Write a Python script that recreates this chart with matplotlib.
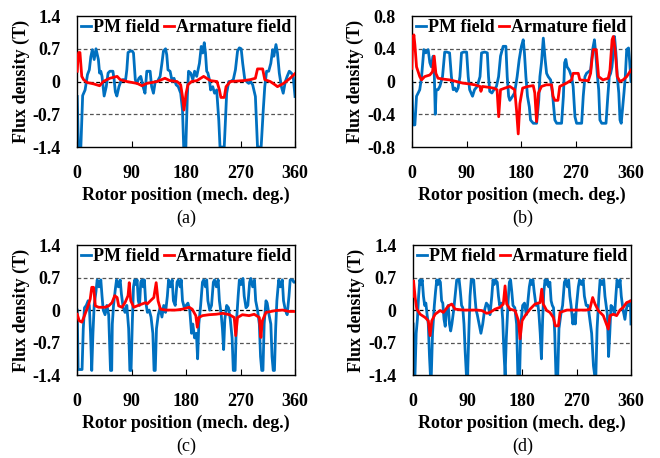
import matplotlib
matplotlib.use("Agg")
import matplotlib.pyplot as plt

plt.rcParams["font.family"] = "Liberation Serif"
plt.rcParams["font.weight"] = "bold"
plt.rcParams["axes.unicode_minus"] = False

# ---- data (angle in mech. deg., flux density in T) ----
# (a)
a_pm_x = [0, 2, 6, 9, 13, 17, 20, 22.5, 25, 28, 31, 35, 37, 39, 41, 44.5, 48, 51, 54, 59, 61, 63, 65.5, 69, 72, 75,
          80, 82, 84, 87.5, 91, 93, 96, 98.5, 102, 105, 109.5, 112, 115, 118, 120.5, 123, 126, 129, 132.5, 137, 140,
          142.5, 146, 148, 150, 153.5, 157, 160, 163.5, 167, 171, 174, 176, 179.5, 182, 184, 187.5, 191, 194, 197.5,
          202, 205, 207.5, 210, 212, 214, 216, 218.5, 220.5, 224, 227, 230.5, 234, 236, 243, 245, 247, 250.5, 253.5,
          258, 261.5, 265, 268, 271, 273.5, 277, 280, 283.5, 286.5, 290, 294.5, 298, 304, 307.5, 310, 313, 316.5,
          320, 323, 325, 328.5, 331, 334, 337.5, 340.5, 344, 347, 350.5, 354, 357, 360]
a_pm_y = [-0.32, -1.4, -1.4, -0.3, -0.18, 0.15, 0.25, 0.53, 0.68, 0.47, 0.7, 0.47, 0.18, 0.22, 0.11, -0.31, -0.11,
          0.18, 0.22, 0.22, 0.04, -0.22, -0.31, -0.11, 0.0, 0.04, 0.04, 0.25, 0.62, 0.65, 0.65, 0.61, 0.04, -0.04,
          0.07, 0.11, -0.14, -0.25, 0.22, 0.22, 0.22, -0.11, -0.25, 0.0, 0.0, 0.11, 0.39, 0.65, 0.7, 0.57, 0.25,
          0.22, 0.0, 0.07, -0.07, -0.11, -0.25, -0.61, -1.4, -1.4, -0.32, 0.22, 0.18, 0.04, 0.22, 0.11, 0.39, 0.75,
          0.61, 0.83, 0.61, 0.22, 0.18, 0.04, -0.18, -0.11, -0.25, -0.18, -0.83, -1.4, -1.4, -0.83, -0.25, 0.0, 0.0,
          0.04, 0.25, 0.65, 0.72, 0.7, 0.39, 0.04, 0.0, -0.04, 0.0, -0.07, -0.32, -1.4, -1.4, -0.61, -0.11, 0.22,
          0.22, 0.39, 0.68, 0.54, 0.79, 0.61, 0.18, -0.11, -0.25, 0.0, 0.11, 0.22, 0.18, 0.11, -0.32]
a_arm_x = [0, 1.5, 2.5, 4.5, 7.5, 10.5, 16, 27, 37, 43, 49, 54, 66, 71, 82, 99, 107, 115, 132, 145, 153, 165, 171,
           174, 176.5, 180, 183, 189, 198, 209, 220, 231, 235, 237.5, 243, 246, 253, 275, 286, 294.5, 298, 306.5,
           310, 319, 327, 331, 341, 352, 360]
a_arm_y = [0.22, 0.55, 0.62, 0.62, 0.11, 0.04, -0.02, -0.05, -0.09, 0.0, 0.04, 0.07, 0.11, 0.04, 0.0, -0.04, -0.09,
           -0.04, 0.0, 0.07, 0.02, 0.0, -0.07, -0.32, -0.61, -0.25, -0.07, 0.0, 0.02, 0.11, 0.02, 0.0, -0.18, -0.34,
           -0.34, -0.11, 0.0, 0.02, 0.04, 0.07, 0.27, 0.27, 0.04, 0.0, -0.07, -0.11, -0.04, 0.07, 0.17]

# (b)
b_pm_x = [0, 2, 5, 7.7, 10.4, 13, 16, 19.7, 23, 26.8, 29.6, 32, 35, 37, 38.5, 40, 43, 46, 50.4, 54, 57, 62, 65, 68,
          70.7, 73.4, 76, 79, 81.6, 85.5, 90, 92.6, 95, 99.7, 103, 107.4, 112, 114.5, 120, 124, 126, 128, 131.5,
          134.8, 139, 142.5, 145.7, 150, 154.5, 156.7, 159, 161, 165.5, 168.8, 173, 176.4, 180, 183, 185, 187.4,
          190, 193, 195, 199.5, 205, 208.5, 210.4, 213, 216, 219, 221.4, 224, 228, 231, 235, 238, 246, 249, 251,
          253, 255, 258.6, 262.5, 265, 268, 270.7, 279, 281.6, 284.4, 287, 290.4, 293.7, 297, 300, 302.5, 305, 307,
          309, 312, 319, 322, 324.4, 326.6, 328.8, 331, 333, 335.3, 337.5, 340, 342, 344, 348.5, 350.7, 353, 356,
          358, 360]
b_pm_y = [0.0, -0.53, -0.53, -0.18, -0.14, -0.10, 0.06, 0.39, 0.35, 0.39, 0.23, 0.18, 0.31, 0.06, -0.40, -0.1,
          -0.10, -0.06, 0.06, 0.36, 0.36, 0.35, 0.06, -0.10, -0.08, -0.12, -0.08, 0.06, 0.35, 0.36, 0.36, 0.06,
          -0.10, -0.18, -0.10, -0.06, 0.06, 0.35, 0.36, 0.35, 0.06, -0.12, -0.14, -0.10, -0.06, 0.06, 0.31, 0.43,
          0.43, 0.06, -0.18, -0.23, -0.18, -0.14, 0.06, 0.27, 0.43, 0.51, 0.35, 0.06, -0.18, -0.31, -0.47, -0.51,
          -0.51, -0.23, 0.06, 0.23, 0.53, 0.27, 0.10, 0.06, 0.02, -0.14, -0.47, -0.51, -0.51, -0.18, 0.23, 0.27,
          0.18, 0.14, 0.06, -0.06, -0.43, -0.51, -0.51, -0.18, 0.06, 0.10, 0.12, 0.14, 0.39, 0.51, 0.31, 0.06,
          -0.10, -0.47, -0.51, -0.51, -0.18, 0.06, 0.10, 0.18, 0.35, 0.55, 0.35, 0.06, -0.14, -0.47, -0.51, -0.14,
          0.06, 0.39, 0.41, 0.23, 0.0]
b_arm_x = [0, 1, 3.3, 5, 7.7, 13, 16, 21, 29.6, 34, 36.7, 39.5, 43, 51, 62, 73.4, 84, 95, 103, 112, 113.5, 116,
           125.5, 134, 140, 142.7, 145.7, 153, 161, 169, 172, 174.8, 177.5, 182, 191, 199.5, 202, 204.9, 208, 213,
           221, 229.6, 232, 235, 240, 243, 254, 262.5, 265, 273.4, 276, 290, 293.7, 296, 298, 303, 306.8, 314,
           322.7, 325.5, 329, 331, 334, 337.5, 342, 347, 353, 360]
b_arm_y = [0.16, 0.4, 0.57, 0.45, 0.18, 0.06, 0.02, 0.06, 0.08, 0.12, 0.31, 0.10, 0.04, 0.03, 0.02, 0.0, -0.02,
           -0.03, -0.04, -0.06, -0.12, -0.06, -0.07, -0.08, -0.10, -0.43, -0.10, -0.08, -0.06, -0.10, -0.35, -0.64,
           -0.27, -0.08, -0.06, -0.05, -0.14, -0.49, -0.14, -0.06, -0.04, -0.04, -0.18, -0.23, -0.23, -0.06, -0.02,
           0.02, 0.10, 0.10, 0.02, 0.01, 0.10, 0.27, 0.39, 0.39, 0.06, 0.02, 0.04, 0.14, 0.51, 0.55, 0.39, 0.06, 0.0,
           0.02, 0.06, 0.14]

# (c)
c_pm_x = [0, 1.5, 8, 10, 12, 15, 18, 20, 22, 24, 26, 28, 31, 33, 36, 39, 41, 43, 46, 49, 52, 55, 57, 58, 60, 63, 65,
          68, 71, 73, 76, 79, 82, 85, 87, 89, 91, 93, 95, 97, 99, 101, 103, 105, 107, 109, 111, 113, 116, 119, 122,
          125, 127, 129, 131, 134, 137, 140, 143, 146, 149, 151, 154, 157, 159, 162, 165, 167, 170, 172, 174, 177,
          180, 183, 186, 189, 191, 194, 197, 199, 201, 204, 207, 209, 212, 214, 216, 219, 222, 225, 227, 230, 233,
          235, 238, 240, 242, 244, 247, 250, 253, 256, 258, 261, 263, 266, 268, 271, 274, 276, 279, 282, 285, 287,
          290, 293, 295, 298, 301, 303, 305, 307, 309, 312, 314, 317, 320, 322, 324, 326, 328, 330, 333, 336, 339,
          341, 344, 347, 350, 352, 356, 358, 360]
c_pm_y = [0.0, -1.28, -1.28, -0.4, 0.05, 0.1, 0.2, 0.1, -0.5, -1.3, -0.5, 0.1, 0.4, 0.65, 0.5, 0.65, 0.3, 0.0,
          -0.1, 0.1, -0.1, -1.3, -1.3, -0.3, 0.1, 0.45, 0.65, 0.5, 0.65, 0.35, 0.05, -0.05, 0.1, -0.4, -1.3, -1.3,
          -0.3, 0.5, 0.65, 0.55, 0.65, 0.2, 0.1, 0.6, 0.65, 0.5, 0.65, 0.2, -0.05, 0.0, -0.15, -0.5, -1.3, -1.3,
          -0.4, -0.1, 0.05, -0.15, 0.1, -0.05, 0.3, 0.65, 0.5, 0.65, 0.2, 0.1, 0.6, 0.65, 0.5, 0.65, 0.2, 0.05, 0.1,
          0.15, 0.0, -0.5, -0.3, -0.6, -0.5, -1.05, -0.3, 0.1, 0.6, 0.65, 0.5, 0.65, 0.2, 0.0, 0.1, 0.6, 0.65, 0.5,
          0.65, 0.2, -0.1, -0.4, -0.85, -0.2, 0.1, 0.05, -0.2, -0.6, -1.3, -1.3, -0.3, 0.3, 0.65, 0.55, 0.68, 0.3,
          0.05, 0.1, 0.6, 0.68, 0.5, 0.65, 0.2, 0.0, -0.3, -1.0, -1.3, -1.3, -0.3, 0.2, 0.15, -0.1, -0.3, -1.0,
          -1.3, -1.3, -0.4, 0.2, 0.65, 0.5, 0.65, 0.2, 0.0, -0.1, 0.3, 0.65, 0.65, 0.6, 0.6]
c_arm_x = [0, 3.3, 7.7, 12, 16, 19, 21.5, 24, 27, 30, 35.4, 46, 52, 57.5, 62, 66, 68.5, 74, 79, 84, 86, 88.5, 93.5,
           99, 107, 113, 115.7, 121, 126.6, 130.5, 133.6, 137.5, 146, 163, 174, 185, 190, 196, 198.5, 201, 207, 218,
           229.6, 240.7, 251.7, 259.5, 262, 265, 273, 284, 292.5, 301, 303.6, 306, 312, 328.5, 339.5, 350.5, 360]
c_arm_y = [-0.09, -0.23, -0.26, -0.12, 0.02, 0.13, 0.24, 0.49, 0.49, 0.09, 0.06, 0.06, 0.09, 0.16, 0.31, 0.27, 0.09,
           0.06, 0.16, 0.31, 0.59, 0.2, 0.06, 0.09, 0.13, 0.16, 0.13, 0.2, 0.27, 0.59, 0.2, 0.02, 0.0, 0.0, 0.02,
           0.06, 0.02, -0.12, -0.37, -0.16, -0.12, -0.1, -0.09, -0.07, -0.1, -0.16, -0.55, -0.16, -0.1, -0.12, -0.09,
           -0.16, -0.59, -0.23, -0.05, -0.01, 0.0, -0.03, -0.03]

# (d)
d_pm_x = [0, 1.5, 3, 5, 7, 9, 11, 13, 15, 17, 19, 21, 23, 25, 27, 28.5, 30, 32, 35, 37, 39, 41, 43, 45, 47, 49, 51,
          53, 55, 58, 60, 62, 64, 67, 70, 72, 76, 78, 80, 82, 84, 86, 88, 90, 92, 94, 96, 100, 102, 104, 106, 109,
          112, 115, 118, 121, 124, 127, 130, 132, 134, 136, 139, 141, 143, 146, 148, 150, 152, 154, 157, 159, 161,
          163, 165, 168, 171, 173, 176, 178, 181, 184, 187, 189, 192, 194, 196, 198, 200, 203, 206, 208, 210, 212,
          214, 216, 218, 220, 222, 224, 226, 228, 230, 232, 234, 236, 239, 241, 244, 247, 250, 252, 255, 257, 259,
          261, 264, 266, 268, 270, 273, 275, 278, 281, 283, 286, 289, 292, 295, 298, 300, 302, 304, 307, 309, 312,
          315, 317, 319, 321, 323, 325, 327, 330, 333, 335, 337, 340, 342, 344, 347, 350, 352, 355, 357, 359, 360]
d_pm_y = [-0.3, -1.4, -1.4, -0.5, -0.2, 0.3, 0.65, 0.55, 0.65, 0.3, 0.1, 0.15, -0.1, -0.3, -1.0, -1.4, -1.4, -0.5,
          0.1, 0.4, 0.65, 0.55, 0.65, 0.6, 0.2, 0.15, -0.2, -0.35, 0.0, 0.1, -0.3, -0.45, -0.3, 0.0, 0.4, 0.65, 0.65,
          0.4, 0.1, 0.05, -0.3, -0.9, -1.4, -1.4, -0.5, 0.3, 0.65, 0.65, 0.3, 0.0, -0.1, -0.3, -0.5, -0.3, 0.0,
          0.15, 0.1, -0.1, 0.3, 0.65, 0.55, 0.65, 0.6, 0.3, 0.1, 0.15, -0.2, -0.9, -1.4, -0.6, 0.2, 0.6, 0.65, 0.4,
          0.1, 0.05, -0.3, -1.4, -1.4, -0.3, 0.1, 0.15, -0.1, 0.1, 0.5, 0.65, 0.55, 0.65, 0.4, 0.1, 0.15, -0.1,
          -0.5, -1.05, -0.2, 0.4, 0.65, 0.55, 0.65, 0.5, 0.6, 0.2, 0.1, 0.05, -0.5, -1.4, -1.4, -0.4, -0.1, 0.1,
          0.6, 0.65, 0.5, 0.65, 0.3, 0.1, -0.3, -0.1, -0.3, 0.1, 0.5, 0.65, 0.55, 0.65, 0.3, 0.1, 0.1, -0.2, -0.5,
          -1.2, -1.4, -1.4, -0.4, 0.3, 0.65, 0.55, 0.65, 0.3, 0.1, -0.1, -1.0, -0.5, 0.1, 0.05, -0.1, 0.3, 0.65,
          0.5, 0.65, 0.3, 0.0, -0.2, 0.0, 0.15, 0.1, 0.2, -0.3]
d_arm_x = [0, 0.6, 3.3, 6, 11.6, 19.8, 25, 28, 30.8, 36.3, 44.6, 50, 58.3, 63.8, 69.3, 83, 105, 113.4, 121.6, 127,
           135.4, 143.6, 149, 151.9, 154.6, 160, 168.4, 174, 176.7, 180, 185, 193.2, 201.5, 209.7, 212.5, 215,
           220.7, 226, 231.7, 235, 240, 242.8, 254, 286.8, 292, 296.7, 300.6, 306, 314.3, 322.5, 325.3, 330.8,
           336.3, 341.8, 347.3, 352.7, 360]
d_arm_y = [0.3, 0.63, 0.27, 0.02, -0.09, -0.16, -0.23, -0.55, -0.23, -0.09, -0.01, -0.05, 0.09, 0.13, 0.02, 0.0,
           0.0, -0.01, -0.07, -0.05, 0.02, 0.06, 0.13, 0.52, 0.13, 0.02, -0.01, -0.23, -0.62, -0.23, -0.12, 0.02,
           0.13, 0.16, 0.45, 0.13, -0.01, -0.05, -0.16, -0.34, -0.34, -0.05, 0.0, 0.0, 0.02, 0.27, 0.13, -0.01,
           -0.12, -0.41, -0.12, -0.09, -0.12, 0.0, 0.06, 0.16, 0.2]

x_ticks = [0, 90, 180, 270, 360]
ticks_14 = [-1.4, -0.7, 0, 0.7, 1.4]
labels_14 = ["-1.4", "-0.7", "0", "0.7", "1.4"]
ticks_08 = [-0.8, -0.4, 0, 0.4, 0.8]
labels_08 = ["-0.8", "-0.4", "0", "0.4", "0.8"]

BLUE = "#0070c0"
RED = "#ff0000"
FS = 13

fig = plt.figure(figsize=(6.6, 4.58), dpi=100)

panels = [
    ([0.117, 0.679, 0.330, 0.286], a_pm_x, a_pm_y, a_arm_x, a_arm_y, ticks_14, labels_14, "(a)", 0.282),
    ([0.624, 0.679, 0.332, 0.286], b_pm_x, b_pm_y, b_arm_x, b_arm_y, ticks_08, labels_08, "(b)", 0.792),
    ([0.117, 0.181, 0.330, 0.284], c_pm_x, c_pm_y, c_arm_x, c_arm_y, ticks_14, labels_14, "(c)", 0.282),
    ([0.626, 0.181, 0.330, 0.284], d_pm_x, d_pm_y, d_arm_x, d_arm_y, ticks_14, labels_14, "(d)", 0.792),
]

for rect, px, py, ax_, ay, yt, yl, cap, capx in panels:
    ax = fig.add_axes(rect)
    lim = yt[-1]
    # dashed reference lines
    ax.axhline(yt[1], color="#555555", lw=0.9, ls=(0, (3, 2)), zorder=1)
    ax.axhline(0, color="black", lw=0.9, ls=(0, (3, 2)), zorder=1)
    ax.axhline(yt[3], color="#555555", lw=0.9, ls=(0, (3, 2)), zorder=1)
    ax.plot(px, py, color=BLUE, lw=2.0, label="PM field", zorder=2)
    ax.plot(ax_, ay, color=RED, lw=2.0, label="Armature field", zorder=3)
    ax.set_xlim(0, 360)
    ax.set_ylim(-lim, lim)
    ax.set_xticks(x_ticks)
    ax.set_xticklabels([str(t) for t in x_ticks], fontsize=FS, fontweight="bold")
    ax.set_yticks(yt)
    ax.set_yticklabels(yl, fontsize=FS, fontweight="bold")
    ax.tick_params(axis="x", direction="in", length=4, width=0.8, pad=13)
    ax.tick_params(axis="y", length=0, pad=12)
    for s in ax.spines.values():
        s.set_linewidth(1.0)
    ax.set_xlabel("Rotor position (mech. deg.)", fontsize=FS, fontweight="bold", labelpad=3)
    ax.set_ylabel("Flux density (T)", fontsize=FS, fontweight="bold", labelpad=2)
    ax.legend(loc="upper center", bbox_to_anchor=(0.5, 1.03), ncol=2, frameon=False,
              handlelength=0.55, handletextpad=0.1, columnspacing=0.25, borderaxespad=0,
              prop={"family": "Liberation Serif", "weight": "bold", "size": FS})
    fig.text(capx, rect[1] - 0.155, cap, ha="center", va="center", fontsize=FS, fontweight="normal")

fig.savefig("out.png", dpi=100)
